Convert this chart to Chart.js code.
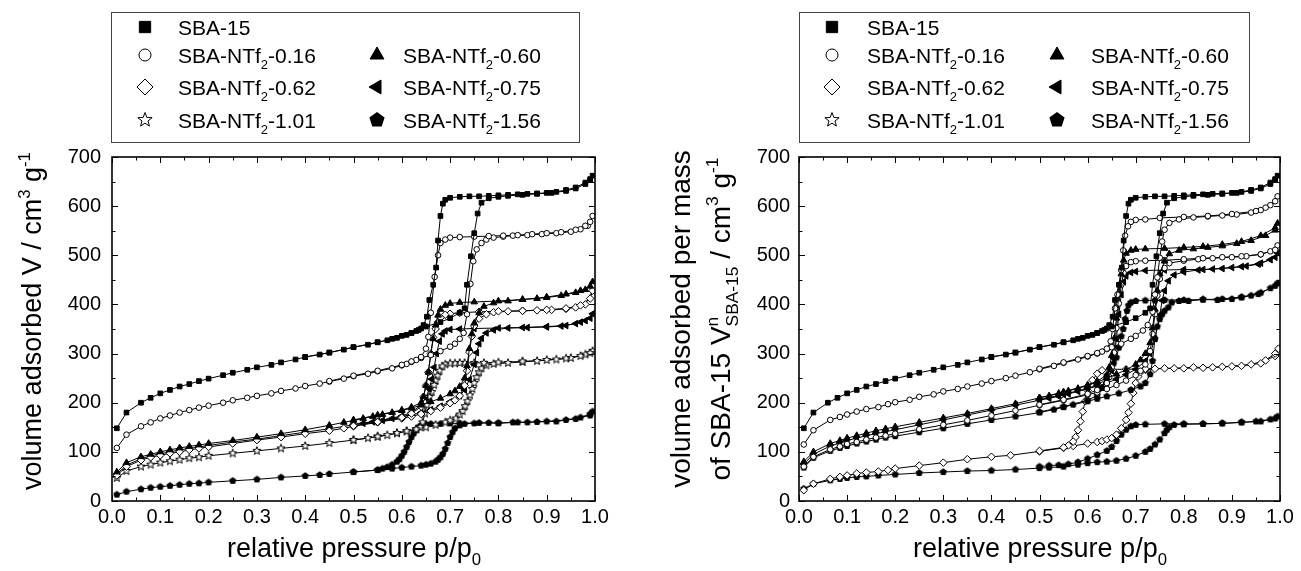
<!DOCTYPE html>
<html>
<head>
<meta charset="utf-8">
<script src="https://cdn.jsdelivr.net/npm/chart.js@4.4.1/dist/chart.umd.min.js"></script>
<style>
  html, body { margin: 0; padding: 0; background: #fff; }
  #wrap { position: relative; width: 1301px; height: 571px; overflow: hidden; }
  canvas { position: absolute; top: 0; }
  #chartLeft { left: 0; }
  #chartRight { left: 650px; }
</style>
</head>
<body>
<div id="wrap">
  <canvas id="chartLeft" width="650" height="571"></canvas>
  <canvas id="chartRight" width="651" height="571"></canvas>
</div>
<script>
// Tick values and labels
const xTicks = [0, 0.1, 0.2, 0.3, 0.4, 0.5, 0.6, 0.7, 0.8, 0.9, 1.0];
const xTickLabels = ['0.0', '0.1', '0.2', '0.3', '0.4', '0.5', '0.6', '0.7', '0.8', '0.9', '1.0'];
const yTicks = [0, 100, 200, 300, 400, 500, 600, 700];
const yTickLabels = ['0', '100', '200', '300', '400', '500', '600', '700'];

// Isotherms as [p/p0, volume] in measurement order: adsorption up, then desorption down.
// Left panel: volume adsorbed per gram of sample
const sba15 = [
  [0.01,148],[0.03,180],[0.06,200],[0.08,210],[0.10,219],[0.12,226],[0.14,233],[0.16,238],[0.18,244],[0.20,249],
  [0.23,256],[0.25,261],[0.28,267],[0.30,272],[0.33,277],[0.35,282],[0.38,288],[0.40,293],[0.43,298],[0.45,302],
  [0.48,308],[0.50,313],[0.53,318],[0.55,323],[0.57,327],[0.59,332],[0.61,338],[0.62,342],[0.63,346],[0.64,351],
  [0.65,355],[0.68,364],[0.70,372],[0.72,383],[0.73,392],[0.735,440],[0.743,498],[0.75,545],[0.757,585],[0.765,607],
  [0.78,616],[0.80,619],[0.82,621],[0.85,623],[0.88,625],[0.91,627],[0.94,631],[0.96,636],[0.98,645],[0.99,653],[0.995,662],
  [0.99,655],[0.98,648],[0.96,638],[0.94,633],[0.92,629],[0.90,627],[0.88,626],[0.86,625],[0.84,624],[0.82,623],
  [0.80,622],[0.78,621],[0.76,620],[0.74,620],[0.72,619],[0.70,617],[0.69,613],[0.685,605],[0.68,580],[0.675,530],
  [0.671,475],[0.665,440],[0.657,409],[0.652,375],[0.645,358],[0.635,348],[0.62,342],[0.60,336],[0.58,330],[0.55,323],
  [0.50,313],[0.45,302],[0.40,293]
];
const ntf016 = [
  [0.01,108],[0.03,135],[0.06,152],[0.08,160],[0.10,168],[0.12,174],[0.14,180],[0.16,185],[0.18,190],[0.20,194],
  [0.23,200],[0.25,205],[0.28,210],[0.30,214],[0.33,219],[0.35,224],[0.38,229],[0.40,234],[0.43,239],[0.45,243],
  [0.48,249],[0.50,254],[0.53,259],[0.55,264],[0.58,270],[0.60,276],[0.61,279],[0.62,283],[0.63,287],[0.64,291],
  [0.66,297],[0.68,305],[0.70,314],[0.71,320],[0.72,330],[0.728,342],[0.735,380],[0.742,442],[0.748,488],[0.755,512],
  [0.765,525],[0.775,532],[0.79,536],[0.81,538],[0.83,540],[0.86,541],[0.89,543],[0.92,545],[0.95,548],[0.97,553],
  [0.985,560],[0.995,580],
  [0.99,568],[0.98,560],[0.96,552],[0.93,547],[0.90,545],[0.87,543],[0.84,541],[0.81,540],[0.78,539],[0.75,538],
  [0.72,537],[0.70,536],[0.69,532],[0.68,525],[0.675,500],[0.668,456],[0.66,383],[0.655,334],[0.65,310],[0.64,293],
  [0.62,284],[0.60,277],[0.55,265],[0.50,255],[0.45,244]
];
const ntf060 = [
  [0.01,59],[0.03,78],[0.06,90],[0.08,95],[0.10,100],[0.12,104],[0.14,108],[0.16,111],[0.18,114],[0.20,117],
  [0.25,123],[0.30,130],[0.35,137],[0.40,145],[0.45,154],[0.48,160],[0.50,164],[0.52,168],[0.54,172],[0.56,176],
  [0.58,180],[0.60,184],[0.62,189],[0.64,195],[0.66,202],[0.68,209],[0.70,218],[0.71,224],[0.72,233],[0.73,250],
  [0.735,275],[0.74,310],[0.745,340],[0.75,362],[0.76,383],[0.77,396],[0.79,403],[0.82,407],[0.85,410],[0.88,412],
  [0.90,414],[0.93,418],[0.96,424],[0.98,430],[0.995,446],
  [0.99,437],[0.97,428],[0.94,421],[0.90,415],[0.85,410],[0.80,407],[0.75,405],[0.72,404],[0.70,402],[0.69,398],
  [0.68,390],[0.675,378],[0.67,358],[0.665,330],[0.66,298],[0.655,262],[0.65,235],[0.645,212],[0.64,200],[0.62,191],
  [0.60,185],[0.55,175],[0.50,165]
];
const ntf062 = [
  [0.01,52],[0.03,70],[0.06,83],[0.08,89],[0.10,93],[0.12,97],[0.14,100],[0.16,104],[0.18,107],[0.20,110],
  [0.25,117],[0.30,124],[0.35,130],[0.40,137],[0.45,143],[0.48,148],[0.50,152],[0.55,160],[0.60,168],[0.62,172],
  [0.64,177],[0.66,183],[0.68,190],[0.70,199],[0.71,205],[0.72,214],[0.73,235],[0.735,265],[0.74,303],[0.745,335],
  [0.75,356],[0.76,371],[0.775,380],[0.79,384],[0.82,386],[0.85,387],[0.88,388],[0.91,389],[0.94,391],[0.96,394],
  [0.98,400],[0.995,428],
  [0.99,412],[0.97,398],[0.94,392],[0.90,389],[0.85,387],[0.80,386],[0.76,385],[0.72,383],[0.70,381],[0.69,379],
  [0.68,373],[0.675,364],[0.67,350],[0.665,333],[0.66,300],[0.655,262],[0.65,235],[0.645,212],[0.64,192],[0.62,178],
  [0.60,170],[0.55,161],[0.50,153]
];
const ntf075 = [
  [0.01,55],[0.03,73],[0.06,86],[0.08,92],[0.10,96],[0.12,100],[0.14,104],[0.16,107],[0.18,110],[0.20,113],
  [0.25,120],[0.30,126],[0.35,133],[0.40,140],[0.45,147],[0.50,155],[0.52,158],[0.54,161],[0.56,164],[0.58,168],
  [0.60,171],[0.62,175],[0.64,180],[0.66,186],[0.68,193],[0.70,202],[0.72,214],[0.73,226],[0.74,247],[0.75,278],
  [0.755,302],[0.76,320],[0.765,331],[0.775,342],[0.79,348],[0.82,352],[0.86,353],[0.90,354],[0.93,356],[0.96,361],
  [0.98,367],[0.995,381],
  [0.99,372],[0.97,364],[0.94,357],[0.90,355],[0.85,353],[0.80,352],[0.75,351],[0.72,350],[0.70,349],[0.69,346],
  [0.684,340],[0.678,325],[0.672,300],[0.667,272],[0.662,248],[0.657,228],[0.65,210],[0.64,196],[0.62,180],[0.60,173],
  [0.55,163],[0.50,156]
];
const ntf101 = [
  [0.01,47],[0.03,61],[0.06,70],[0.08,74],[0.10,78],[0.12,81],[0.14,84],[0.16,87],[0.18,89],[0.20,92],
  [0.25,97],[0.30,102],[0.35,107],[0.40,112],[0.45,118],[0.50,124],[0.53,128],[0.55,131],[0.57,134],[0.59,138],
  [0.61,142],[0.63,146],[0.65,150],[0.67,155],[0.69,160],[0.70,164],[0.712,168],[0.72,176],[0.726,183],[0.731,193],
  [0.736,203],[0.741,215],[0.746,228],[0.75,240],[0.755,252],[0.76,262],[0.765,270],[0.775,276],[0.79,279],[0.82,281],
  [0.85,283],[0.88,285],[0.92,288],[0.95,291],[0.98,298],[0.995,305],
  [0.99,301],[0.97,295],[0.94,290],[0.90,287],[0.85,284],[0.80,282],[0.77,281],[0.75,281],[0.73,281],[0.72,281],
  [0.71,280],[0.70,280],[0.69,278],[0.684,274],[0.678,265],[0.674,255],[0.67,245],[0.667,236],[0.662,222],[0.657,212],
  [0.652,195],[0.648,178],[0.643,160],[0.638,150],[0.63,146],[0.61,142],[0.59,138],[0.55,131],[0.50,124]
];
const ntf156 = [
  [0.01,13],[0.03,19],[0.06,24],[0.08,27],[0.10,29],[0.12,31],[0.14,33],[0.16,35],[0.18,36],[0.20,38],
  [0.25,41],[0.30,44],[0.35,48],[0.40,51],[0.43,53],[0.45,55],[0.50,59],[0.55,63],[0.58,66],[0.60,68],
  [0.62,70],[0.64,72],[0.65,74],[0.66,76],[0.67,80],[0.675,84],[0.68,89],[0.685,96],[0.69,106],[0.695,118],
  [0.70,130],[0.705,140],[0.71,148],[0.72,154],[0.73,157],[0.75,158],[0.78,159],[0.80,158],[0.83,160],[0.86,160],
  [0.90,162],[0.94,165],[0.97,170],[0.99,174],[0.995,182],
  [0.99,177],[0.96,167],[0.92,162],[0.88,161],[0.84,160],[0.80,159],[0.76,159],[0.72,158],[0.70,158],[0.68,157],
  [0.66,157],[0.65,156],[0.64,154],[0.635,150],[0.63,145],[0.625,138],[0.62,130],[0.615,120],[0.61,110],[0.605,100],
  [0.60,92],[0.595,85],[0.59,80],[0.58,74],[0.57,69],[0.56,66],[0.55,63],[0.50,59]
];

// Right panel: volume adsorbed per mass of SBA-15
const n016 = [
  [0.01,115],[0.03,144],[0.065,165],[0.085,171],[0.10,176],[0.12,182],[0.14,187],[0.165,191],[0.185,197],[0.20,201],
  [0.23,206],[0.25,212],[0.28,217],[0.30,223],[0.33,228],[0.35,233],[0.38,239],[0.40,244],[0.43,250],[0.45,255],
  [0.48,262],[0.50,268],[0.53,275],[0.55,281],[0.58,288],[0.60,294],[0.62,300],[0.63,304],[0.64,309],[0.65,313],
  [0.67,320],[0.69,330],[0.70,336],[0.715,347],[0.725,358],[0.735,385],[0.74,420],[0.745,455],[0.75,495],[0.755,528],
  [0.76,552],[0.77,566],[0.79,573],[0.82,577],[0.85,579],[0.88,581],[0.91,583],[0.94,587],[0.96,592],[0.98,602],[0.995,620],
  [0.99,610],[0.97,597],[0.95,590],[0.90,584],[0.85,580],[0.80,578],[0.75,576],[0.72,573],[0.70,572],[0.69,568],
  [0.684,559],[0.678,540],[0.674,510],[0.67,470],[0.666,440],[0.662,420],[0.657,392],[0.652,350],[0.648,325],[0.64,310],
  [0.62,301],[0.60,295],[0.55,282],[0.50,269]
];
const n060 = [
  [0.01,80],[0.03,100],[0.065,117],[0.085,123],[0.10,128],[0.12,133],[0.14,138],[0.16,143],[0.18,147],[0.20,151],
  [0.25,160],[0.30,169],[0.35,178],[0.40,188],[0.45,198],[0.50,210],[0.52,214],[0.54,219],[0.56,224],[0.58,229],
  [0.60,235],[0.62,242],[0.64,250],[0.66,258],[0.68,267],[0.70,278],[0.71,287],[0.72,300],[0.73,322],[0.735,352],
  [0.74,390],[0.745,428],[0.75,462],[0.76,488],[0.77,503],[0.79,510],[0.82,513],[0.85,516],[0.88,519],[0.91,524],
  [0.94,530],[0.97,540],[0.99,551],[0.995,565],
  [0.99,556],[0.96,540],[0.92,528],[0.88,522],[0.84,518],[0.80,516],[0.76,514],[0.72,513],[0.70,512],[0.69,510],
  [0.68,504],[0.675,490],[0.67,462],[0.665,420],[0.66,372],[0.655,330],[0.65,296],[0.645,272],[0.64,256],[0.62,244],
  [0.60,236],[0.55,222],[0.50,210]
];
const nOpen490 = [
  [0.01,70],[0.03,90],[0.065,105],[0.085,111],[0.10,116],[0.12,120],[0.14,125],[0.16,129],[0.18,133],[0.20,137],
  [0.25,146],[0.30,155],[0.35,164],[0.40,174],[0.45,184],[0.50,195],[0.55,205],[0.60,216],[0.62,221],[0.64,228],
  [0.66,236],[0.68,245],[0.70,256],[0.71,265],[0.72,278],[0.73,305],[0.735,340],[0.74,380],[0.745,418],[0.75,452],
  [0.76,474],[0.77,484],[0.80,489],[0.83,492],[0.86,494],[0.90,496],[0.93,498],[0.96,502],[0.98,508],[0.995,520],
  [0.99,511],[0.96,502],[0.92,498],[0.88,496],[0.84,494],[0.80,492],[0.76,490],[0.72,489],[0.70,488],[0.69,486],
  [0.68,478],[0.675,464],[0.67,440],[0.665,402],[0.66,352],[0.655,302],[0.65,272],[0.645,252],[0.64,240],[0.62,226],
  [0.60,218],[0.55,206],[0.50,196]
];
const n075 = [
  [0.01,75],[0.03,95],[0.065,112],[0.085,118],[0.10,123],[0.12,128],[0.14,133],[0.16,137],[0.18,141],[0.20,145],
  [0.25,155],[0.30,165],[0.35,175],[0.40,185],[0.45,195],[0.50,205],[0.52,209],[0.54,213],[0.56,218],[0.58,223],
  [0.60,228],[0.62,234],[0.64,240],[0.66,248],[0.68,257],[0.70,268],[0.72,285],[0.73,300],[0.74,330],[0.75,378],
  [0.755,408],[0.76,428],[0.768,448],[0.78,460],[0.80,466],[0.83,470],[0.86,472],[0.90,475],[0.93,478],[0.955,482],
  [0.98,491],[0.995,505],
  [0.99,496],[0.96,484],[0.92,477],[0.88,473],[0.84,471],[0.80,471],[0.76,470],[0.72,469],[0.70,467],[0.69,465],
  [0.68,458],[0.675,446],[0.67,420],[0.665,380],[0.66,330],[0.655,290],[0.65,265],[0.64,248],[0.62,236],[0.60,229],
  [0.55,217],[0.50,206]
];
const n156 = [
  [0.01,68],[0.03,88],[0.065,102],[0.085,108],[0.10,112],[0.12,117],[0.14,121],[0.16,125],[0.18,129],[0.20,132],
  [0.25,140],[0.30,148],[0.35,157],[0.40,165],[0.45,172],[0.50,180],[0.53,186],[0.55,191],[0.57,196],[0.60,203],
  [0.62,208],[0.64,213],[0.665,219],[0.69,226],[0.71,233],[0.72,240],[0.73,258],[0.735,285],[0.74,330],[0.745,355],
  [0.75,370],[0.755,380],[0.76,387],[0.768,394],[0.775,404],[0.79,407],[0.81,407],[0.84,410],[0.87,409],[0.90,411],
  [0.92,414],[0.94,418],[0.955,421],[0.98,433],[0.995,443],
  [0.99,438],[0.96,424],[0.92,415],[0.88,411],[0.84,410],[0.80,409],[0.76,409],[0.74,408],[0.72,408],[0.70,407],
  [0.69,404],[0.685,398],[0.682,387],[0.678,370],[0.674,350],[0.67,335],[0.665,312],[0.66,292],[0.654,280],[0.647,268],
  [0.64,255],[0.63,230],[0.62,215],[0.60,205],[0.55,192],[0.50,181]
];
const nDiamond270 = [
  [0.01,22],[0.03,35],[0.065,45],[0.085,49],[0.10,52],[0.12,56],[0.14,58],[0.165,60],[0.185,63],[0.20,66],
  [0.25,72],[0.30,78],[0.35,85],[0.40,90],[0.44,93],[0.50,101],[0.55,108],[0.57,112],[0.60,117],[0.62,120],
  [0.63,122],[0.64,125],[0.65,128],[0.66,135],[0.67,148],[0.68,165],[0.685,180],[0.69,198],[0.695,220],[0.70,240],
  [0.705,253],[0.71,262],[0.72,267],[0.74,269],[0.78,270],[0.82,272],[0.86,272],[0.90,274],[0.94,278],[0.97,286],
  [0.99,295],[0.997,310],
  [0.99,300],[0.96,280],[0.92,275],[0.88,273],[0.84,271],[0.80,270],[0.76,270],[0.72,269],[0.68,268],[0.65,268],
  [0.63,266],[0.62,259],[0.61,246],[0.60,225],[0.595,203],[0.59,182],[0.585,162],[0.58,144],[0.575,130],[0.57,121],
  [0.56,113],[0.55,109],[0.50,102]
];
const nPent155 = [
  [0.01,25],[0.03,35],[0.065,42],[0.085,45],[0.10,47],[0.12,49],[0.14,50],[0.165,52],[0.20,54],[0.25,57],
  [0.30,59],[0.35,61],[0.40,62],[0.45,64],[0.50,67],[0.52,68],[0.55,70],[0.58,74],[0.60,77],[0.62,79],
  [0.64,80],[0.66,82],[0.68,86],[0.70,92],[0.72,100],[0.73,106],[0.74,115],[0.75,125],[0.76,138],[0.765,145],
  [0.77,150],[0.78,155],[0.80,156],[0.84,157],[0.88,158],[0.92,160],[0.95,162],[0.98,166],[0.995,172],
  [0.99,168],[0.96,162],[0.92,160],[0.88,158],[0.84,157],[0.80,157],[0.76,157],[0.72,156],[0.70,155],[0.69,152],
  [0.68,145],[0.67,135],[0.66,122],[0.65,110],[0.64,102],[0.62,94],[0.60,86],[0.58,79],[0.56,75],[0.54,73],
  [0.52,72],[0.50,70]
];

const FONT = 'Arial, "Liberation Sans", sans-serif';

// Star and pentagon are not built into Chart.js, so they are drawn on small canvases
function starPath(g, cx, cy, R) {
  g.beginPath();
  for (let i = 0; i < 10; i++) {
    const a = -Math.PI / 2 + i * Math.PI / 5;
    const r = i % 2 ? R * 0.42 : R;
    g.lineTo(cx + r * Math.cos(a), cy + r * Math.sin(a));
  }
  g.closePath();
}
function pentPath(g, cx, cy, R) {
  g.beginPath();
  for (let i = 0; i < 5; i++) {
    const a = -Math.PI / 2 + i * 2 * Math.PI / 5;
    g.lineTo(cx + R * Math.cos(a), cy + R * Math.sin(a));
  }
  g.closePath();
}
function markCanvas(kind, R) {
  const s = 2 * Math.ceil(R + 2);
  const c = document.createElement('canvas');
  c.width = s; c.height = s;
  const g = c.getContext('2d');
  g.lineWidth = 1;
  g.strokeStyle = '#000';
  if (kind === 'star') {
    starPath(g, s / 2, s / 2, R);
    g.fillStyle = '#fff'; g.fill(); g.stroke();
  } else {
    pentPath(g, s / 2, s / 2, R);
    g.fillStyle = '#000'; g.fill();
  }
  return c;
}

const marks = {
  square:   { pointStyle: 'rect', radius: 3.3, fill: '#000' },
  circle:   { pointStyle: 'circle', radius: 2.8, fill: '#fff' },
  triangle: { pointStyle: 'triangle', radius: 3.8, fill: '#000' },
  diamond:  { pointStyle: 'rectRot', radius: 3.8, fill: '#fff' },
  triLeft:  { pointStyle: 'triangle', rotation: -90, radius: 3.8, fill: '#000' },
  star:     { pointStyle: markCanvas('star', 4.3), radius: 4.3 },
  pentagon: { pointStyle: markCanvas('pentagon', 3.8), radius: 3.8 }
};
// bigger versions for the legend box
const legendMarks = {
  square:   { pointStyle: 'rect', radius: 8, fill: '#000' },
  circle:   { pointStyle: 'circle', radius: 6, fill: '#fff' },
  triangle: { pointStyle: 'triangle', radius: 8, fill: '#000' },
  diamond:  { pointStyle: 'rectRot', radius: 8, fill: '#fff' },
  triLeft:  { pointStyle: 'triangle', rotation: -90, radius: 8, fill: '#000' },
  star:     { pointStyle: markCanvas('star', 7.5), radius: 7.5 },
  pentagon: { pointStyle: markCanvas('pentagon', 8), radius: 8 }
};

function series(points, kind) {
  const m = marks[kind];
  return {
    data: points.map(([x, y]) => ({ x, y })),
    showLine: true,
    borderColor: '#000',
    borderWidth: 1,
    tension: 0,
    pointStyle: m.pointStyle,
    pointRotation: m.rotation || 0,
    pointRadius: m.radius,
    pointBackgroundColor: m.fill || '#000',
    pointBorderColor: '#000',
    pointBorderWidth: 1
  };
}

// Text with superscripts / subscripts: parts = [[text, mode]]
function rich(ctx, parts, x, y, size, draw) {
  let cx = x;
  ctx.textAlign = 'left';
  ctx.textBaseline = 'alphabetic';
  for (const [t, mode] of parts) {
    if (mode === 'supsub') {
      ctx.font = `${size * 0.62}px ${FONT}`;
      if (draw) {
        ctx.fillText(t[0], cx, y - size * 0.42);
        ctx.fillText(t[1], cx, y + size * 0.3);
      }
      cx += Math.max(ctx.measureText(t[0]).width, ctx.measureText(t[1]).width);
      continue;
    }
    const s = mode ? size * 0.62 : size;
    const dy = mode === 'sup' ? -size * 0.42 : mode === 'sub' ? size * 0.3 : 0;
    ctx.font = `${s}px ${FONT}`;
    if (draw) ctx.fillText(t, cx, y + dy);
    cx += ctx.measureText(t).width;
  }
  return cx - x;
}

const legendEntries = [
  { kind: 'square', text: [['SBA-15', '']], col: 0, row: 0 },
  { kind: 'circle', text: [['SBA-NTf', ''], ['2', 'sub'], ['-0.16', '']], col: 0, row: 1 },
  { kind: 'triangle', text: [['SBA-NTf', ''], ['2', 'sub'], ['-0.60', '']], col: 1, row: 1 },
  { kind: 'diamond', text: [['SBA-NTf', ''], ['2', 'sub'], ['-0.62', '']], col: 0, row: 2 },
  { kind: 'triLeft', text: [['SBA-NTf', ''], ['2', 'sub'], ['-0.75', '']], col: 1, row: 2 },
  { kind: 'star', text: [['SBA-NTf', ''], ['2', 'sub'], ['-1.01', '']], col: 0, row: 3 },
  { kind: 'pentagon', text: [['SBA-NTf', ''], ['2', 'sub'], ['-1.56', '']], col: 1, row: 3 }
];
const legendRows = [27, 55, 87, 120];

// Frame, inward ticks on all four sides, legend box and axis titles
function decor(d) {
  return {
    id: 'decor',
    afterDatasetsDraw(chart) {
      const ctx = chart.ctx;
      const { left, right, top, bottom } = chart.chartArea;
      const xs = chart.scales.x, ys = chart.scales.y;
      ctx.save();
      ctx.strokeStyle = '#000';
      ctx.lineWidth = 1;
      ctx.beginPath();
      xTicks.forEach((v, i) => {
        const minor = [v];
        if (i < xTicks.length - 1) minor.push((v + xTicks[i + 1]) / 2);
        minor.forEach((m, j) => {
          const px = Math.round(xs.getPixelForValue(m)) + 0.5;
          const len = j === 0 ? 6 : 3.5;
          ctx.moveTo(px, bottom); ctx.lineTo(px, bottom - len);
          ctx.moveTo(px, top); ctx.lineTo(px, top + len);
        });
      });
      yTicks.forEach((v, i) => {
        const minor = [v];
        if (i < yTicks.length - 1) minor.push((v + yTicks[i + 1]) / 2);
        minor.forEach((m, j) => {
          const py = Math.round(ys.getPixelForValue(m)) + 0.5;
          const len = j === 0 ? 6 : 3.5;
          ctx.moveTo(left, py); ctx.lineTo(left + len, py);
          ctx.moveTo(right, py); ctx.lineTo(right - len, py);
        });
      });
      ctx.stroke();
      ctx.lineWidth = 1.6;
      ctx.strokeRect(left, top, right - left, bottom - top);
      ctx.restore();
    },
    afterDraw(chart) {
      const ctx = chart.ctx;
      ctx.save();
      ctx.fillStyle = '#000';
      // legend box
      ctx.strokeStyle = '#444';
      ctx.lineWidth = 1;
      ctx.strokeRect(d.legend.x0 + 0.5, 12.5, d.legend.x1 - d.legend.x0, 130);
      legendEntries.forEach(e => {
        const m = legendMarks[e.kind];
        const mx = e.col === 0 ? d.legend.mark0 : d.legend.mark1;
        const tx = e.col === 0 ? d.legend.text0 : d.legend.text1;
        const y = legendRows[e.row];
        ctx.fillStyle = m.fill || '#000';
        ctx.strokeStyle = '#000';
        ctx.lineWidth = 1;
        Chart.helpers.drawPoint(ctx, { pointStyle: m.pointStyle, rotation: m.rotation || 0, radius: m.radius, borderWidth: 1 }, mx, y);
        ctx.fillStyle = '#000';
        rich(ctx, e.text, tx, y + 7.5, 21, true);
      });
      // x title
      const xt = [['relative pressure p/p', ''], ['0', 'sub']];
      const w = rich(ctx, xt, 0, 0, 27, false);
      rich(ctx, xt, d.xTitleX - w / 2, 557, 27, true);
      // y title lines (rotated)
      d.yLines.forEach(line => {
        ctx.save();
        ctx.translate(line.x, d.yTitleY);
        ctx.rotate(-Math.PI / 2);
        const lw = rich(ctx, line.parts, 0, 0, d.yTitleSize, false);
        rich(ctx, line.parts, -lw / 2, 0, d.yTitleSize, true);
        ctx.restore();
      });
      ctx.restore();
    }
  };
}

function makeChart(id, datasets, yWidth, rightPad, d, yPad) {
  return new Chart(document.getElementById(id), {
    type: 'scatter',
    data: { datasets },
    options: {
      responsive: false,
      animation: false,
      devicePixelRatio: 1,
      layout: { padding: { left: 0, right: rightPad, top: 157, bottom: 0 } },
      plugins: { legend: { display: false }, tooltip: { enabled: false } },
      scales: {
        x: {
          type: 'linear', min: 0, max: 1,
          grid: { display: false, drawTicks: false },
          border: { display: false },
          afterBuildTicks: s => { s.ticks = xTicks.map(v => ({ value: v })); },
          afterFit: s => { s.height = 70; },
          ticks: { padding: 4, color: '#000', font: { family: FONT, size: 20 }, maxRotation: 0,
                   callback: (v, i) => xTickLabels[i] }
        },
        y: {
          type: 'linear', min: 0, max: 700,
          grid: { display: false, drawTicks: false },
          border: { display: false },
          afterBuildTicks: s => { s.ticks = yTicks.map(v => ({ value: v })); },
          afterFit: s => { s.width = yWidth; },
          ticks: { padding: yPad, color: '#000', font: { family: FONT, size: 20 },
                   callback: (v, i) => yTickLabels[i] }
        }
      }
    },
    plugins: [decor(d)]
  });
}

// Left panel
makeChart('chartLeft', [
  series(sba15, 'square'),
  series(ntf016, 'circle'),
  series(ntf060, 'triangle'),
  series(ntf062, 'diamond'),
  series(ntf075, 'triLeft'),
  series(ntf101, 'star'),
  series(ntf156, 'pentagon')
], 112, 55, {
  legend: { x0: 111, x1: 579, mark0: 145, text0: 178, mark1: 377, text1: 403 },
  xTitleX: 354,
  yTitleY: 321,
  yTitleSize: 27,
  yLines: [{ x: 41, parts: [['volume adsorbed V / cm', ''], ['3', 'sup'], [' g', ''], ['-1', 'sup']] }]
}, 11);

// Right panel
makeChart('chartRight', [
  series(sba15, 'square'),
  series(n016, 'circle'),
  series(n060, 'triangle'),
  series(nOpen490, 'circle'),
  series(n075, 'triLeft'),
  series(n156, 'pentagon'),
  series(nDiamond270, 'diamond'),
  series(nPent155, 'pentagon')
], 149, 21, {
  legend: { x0: 149, x1: 599, mark0: 182, text0: 217, mark1: 407, text1: 441 },
  xTitleX: 390,
  yTitleY: 319,
  yTitleSize: 28,
  yLines: [
    { x: 40, parts: [['volume adsorbed per mass', '']] },
    { x: 80, parts: [['of SBA-15 V', ''], [['n', 'SBA-15'], 'supsub'], [' / cm', ''], ['3', 'sup'], [' g', ''], ['-1', 'sup']] }
  ]
}, 9);
</script>
</body>
</html>
